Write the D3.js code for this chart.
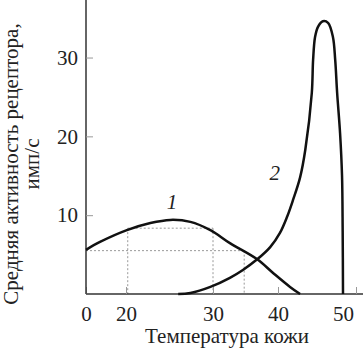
<!DOCTYPE html>
<html>
<head>
<meta charset="utf-8">
<script src="https://cdn.jsdelivr.net/npm/d3@7"></script>
<style>
  body { margin: 0; background: #fff; }
  svg text { font-family: "Liberation Serif", "DejaVu Serif", serif; fill: #222; }
</style>
</head>
<body>
<div id="chart"></div>
<script>
const width = 363,
      height = 364;

// curve 1 : [temperature, activity]
const curve1 = [[0, 5.6], [7, 6.6], [20.1, 8.1], [22.8, 9.0], [25.1, 9.4], [27.4, 9.15],
  [29.7, 8.1], [32.6, 6.45], [36.8, 4.4], [39.2, 2.7], [41.85, 0.9], [43.4, 0]];
// curve 2
const curve2 = [[26.0, 0], [27.4, 0.13], [29.7, 0.9], [32.6, 2.05], [34.6, 3.05], [36.8, 4.4],
  [38.8, 5.95], [40.3, 7.75], [41.4, 9.8], [42.3, 11.9], [43.4, 14.8], [44.2, 18.3],
  [45.2, 25.5], [45.4, 29.7], [45.7, 32.6], [46.15, 33.9], [46.9, 34.6],
  [47.7, 34.4], [48.45, 32.6], [48.8, 29.7], [49.1, 25.5], [49.55, 20.4], [49.85, 15.0],
  [49.95, 8.0], [50, 0]];
// dotted guide lines
const guides = [
  [[0, 5.5], [34.8, 5.5]], [[34.8, 5.5], [34.8, 0]],
  [[20.2, 8.35], [30, 8.35]], [[20.2, 8.35], [20.2, 0]], [[30, 8.35], [30, 0]]
];
const xTicks = [0, 20, 30, 40, 50, 52];
const xLabels = ["0", "20", "30", "40", "50", ""];
const yTicks = [10, 20, 30];
const curveLabels = [{ text: "1", x: 25.3, y: 10.8 }, { text: "2", x: 39.5, y: 14.5 }];

var svg = d3.select('#chart').append('svg')
  .attr('width', width)
  .attr('height', height);

// broken temperature axis: 0 then 20..50
const x = d3.scaleLinear()
  .domain([0, 20, 30, 40, 50])
  .range([86, 126, 213, 278, 343]);
const y = d3.scaleLinear()
  .domain([0, 37.3])
  .range([294, 0]);

var line = d3.line()
  .x(d => x(d[0]))
  .y(d => y(d[1]));

svg.append("g").selectAll("path.guide").data(guides)
  .enter().append("path")
  .attr("class", "guide")
  .attr("d", line)
  .style("fill", "none")
  .style("stroke", "#999")
  .style("stroke-width", 1)
  .style("stroke-dasharray", "2,2");

var xAxis = d3.axisBottom(x)
  .tickValues(xTicks)
  .tickFormat((d, i) => xLabels[i])
  .tickSizeInner(-7)
  .tickSizeOuter(0)
  .tickPadding(12);

var gx = svg.append("g")
  .attr("transform", "translate(0," + y(0) + ")")
  .call(xAxis);
gx.select(".domain").attr("d", "M" + x(0) + ",0H" + width);

var yAxis = d3.axisLeft(y)
  .tickValues(yTicks)
  .tickSizeInner(-7)
  .tickSizeOuter(0)
  .tickPadding(8);

var gy = svg.append("g")
  .attr("transform", "translate(" + x(0) + ",0)")
  .call(yAxis);
gy.select(".domain").attr("d", "M0,0V" + y(0));

svg.selectAll(".domain").style("stroke", "#333").style("stroke-width", 1.5);
svg.selectAll(".tick line").style("stroke", "#999");
svg.selectAll(".tick text").style("font-size", "21px")
  .style("font-family", '"Liberation Serif", serif').style("fill", "#222");

var smooth = d3.line()
  .x(d => x(d[0]))
  .y(d => y(d[1]))
  .curve(d3.curveCatmullRom.alpha(0.5));

svg.append("g").selectAll("path.curve").data([curve1, curve2])
  .enter().append("path")
  .attr("class", "curve")
  .attr("d", smooth)
  .style("fill", "none")
  .style("stroke", "#111")
  .style("stroke-width", 2.5);

svg.append("g").selectAll("text").data(curveLabels)
  .enter().append("text")
  .attr("x", d => x(d.x))
  .attr("y", d => y(d.y))
  .attr("text-anchor", "middle")
  .style("font-size", "21px")
  .style("font-style", "italic")
  .text(d => d.text);

svg.append("text")
  .attr("x", 227)
  .attr("y", 343)
  .attr("text-anchor", "middle")
  .style("font-size", "21px")
  .text("Температура кожи");

var ylab = svg.append("text")
  .attr("transform", "translate(18,164) rotate(-90)")
  .attr("text-anchor", "middle")
  .style("font-size", "21px");
ylab.append("tspan").attr("x", 0).attr("y", 0).text("Средняя активность рецептора,");
ylab.append("tspan").attr("x", 0).attr("y", 21).text("имп/с");
</script>
</body>
</html>
